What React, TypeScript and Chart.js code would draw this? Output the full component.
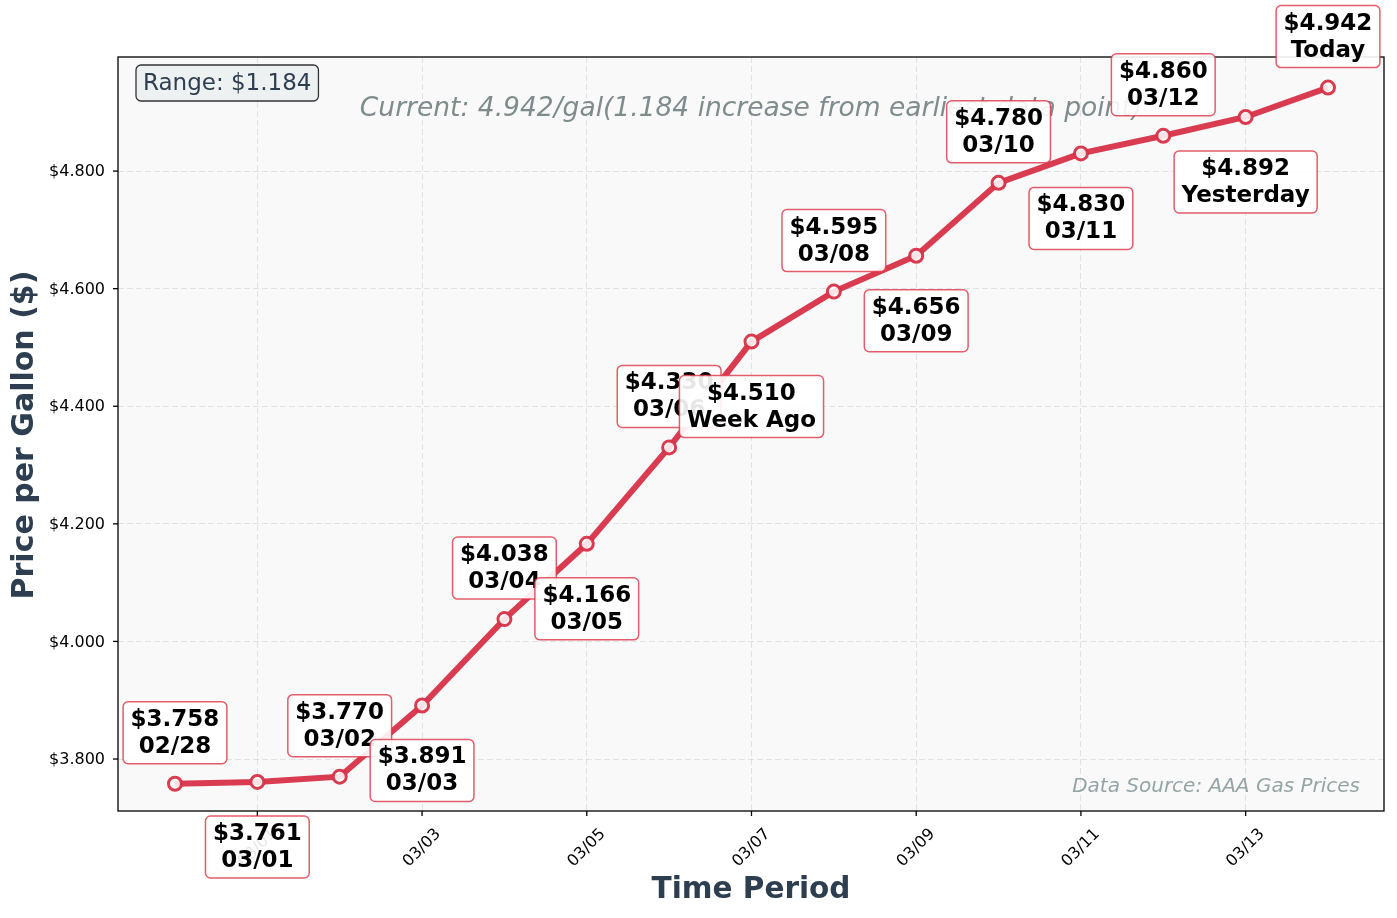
import { useEffect, useRef } from 'react';
import Chart from 'chart.js/auto';

const DATES = ['02/28', '03/01', '03/02', '03/03', '03/04', '03/05', '03/06', '03/07', '03/08', '03/09', '03/10', '03/11', '03/12', '03/13', '03/14'];
const PRICES = [3.758, 3.761, 3.770, 3.891, 4.038, 4.166, 4.330, 4.510, 4.595, 4.656, 4.780, 4.830, 4.860, 4.892, 4.942];
const POINT_NAMES = ['02/28', '03/01', '03/02', '03/03', '03/04', '03/05', '03/06', 'Week Ago', '03/08', '03/09', '03/10', '03/11', '03/12', 'Yesterday', 'Today'];
const X_TICKS = [1, 3, 5, 7, 9, 11, 13];
const Y_TICKS = [3.8, 4.0, 4.2, 4.4, 4.6, 4.8];

const C = {
  line: 'rgba(215, 50, 72, 0.95)',
  boxEdge: 'rgba(220, 53, 69, 0.8)',
  plotBg: '#f9f9f9',
  grid: 'rgba(0, 0, 0, 0.09)',
  dark: '#2c3e50',
  gray: '#7f8c8d',
  lightGray: '#95a5a6'
};
const FONT = '"DejaVu Sans", sans-serif';

export default function App() {
  const canvasRef = useRef<HTMLCanvasElement | null>(null);

  useEffect(() => {
    document.body.style.margin = '0';
    if (!canvasRef.current) return;

    const first = PRICES[0];
    const last = PRICES[PRICES.length - 1];
    const range = Math.max(...PRICES) - Math.min(...PRICES);

    const decor = {
      id: 'decor',
      beforeDraw(chart: Chart) {
        const { ctx, chartArea: a } = chart;
        ctx.save();
        ctx.fillStyle = '#fff';
        ctx.fillRect(0, 0, chart.width, chart.height);
        ctx.fillStyle = C.plotBg;
        ctx.fillRect(a.left, a.top, a.right - a.left, a.bottom - a.top);
        ctx.restore();
      },
      beforeDatasetsDraw(chart: Chart) {
        const { ctx, chartArea: a } = chart;
        const xs = chart.scales.x;
        const ys = chart.scales.y;
        ctx.save();
        // frame
        ctx.strokeStyle = '#000';
        ctx.lineWidth = 1.3;
        ctx.strokeRect(a.left, a.top, a.right - a.left, a.bottom - a.top);

        // y ticks
        ctx.fillStyle = '#000';
        ctx.font = `16px ${FONT}`;
        ctx.textAlign = 'right';
        ctx.textBaseline = 'middle';
        Y_TICKS.forEach((v) => {
          const y = ys.getPixelForValue(v);
          ctx.beginPath();
          ctx.moveTo(a.left - 5, y);
          ctx.lineTo(a.left, y);
          ctx.stroke();
          ctx.fillText('$' + v.toFixed(3), a.left - 13, y + 1);
        });

        // x ticks
        X_TICKS.forEach((i) => {
          const x = xs.getPixelForValue(i);
          ctx.beginPath();
          ctx.moveTo(x, a.bottom);
          ctx.lineTo(x, a.bottom + 5);
          ctx.stroke();
          ctx.save();
          ctx.translate(x, a.bottom + 37);
          ctx.rotate(-Math.PI / 4);
          ctx.textAlign = 'center';
          ctx.fillText(DATES[i], 0, 0);
          ctx.restore();
        });

        // axis titles
        ctx.fillStyle = C.dark;
        ctx.font = `bold 29.5px ${FONT}`;
        ctx.textAlign = 'center';
        ctx.fillText('Time Period', (a.left + a.right) / 2, 890);
        ctx.save();
        ctx.translate(25, 435);
        ctx.rotate(-Math.PI / 2);
        ctx.font = `bold 30px ${FONT}`;
        ctx.fillText('Price per Gallon ($)', 0, 0);
        ctx.restore();

        // subtitle inside plot
        ctx.fillStyle = C.gray;
        ctx.font = `italic 26.5px ${FONT}`;
        ctx.fillText(
          `Current: ${last.toFixed(3)}/gal(${(last - first).toFixed(3)} increase from earliest data point)`,
          (a.left + a.right) / 2,
          109
        );

        // data source
        ctx.fillStyle = C.lightGray;
        ctx.font = `italic 20px ${FONT}`;
        ctx.textAlign = 'right';
        ctx.fillText('Data Source: AAA Gas Prices', a.right - 24, 787);

        // range box
        ctx.font = `23px ${FONT}`;
        const rt = 'Range: $' + range.toFixed(3);
        const rw = ctx.measureText(rt).width;
        ctx.beginPath();
        ctx.roundRect(136, 65, rw + 14, 36, 5);
        ctx.fillStyle = 'rgba(236, 240, 241, 0.9)';
        ctx.fill();
        ctx.strokeStyle = '#333';
        ctx.lineWidth = 1.3;
        ctx.stroke();
        ctx.fillStyle = C.dark;
        ctx.textAlign = 'left';
        ctx.fillText(rt, 143, 84);
        ctx.restore();
      },
      afterDatasetsDraw(chart: Chart) {
        const { ctx } = chart;
        const xs = chart.scales.x;
        const ys = chart.scales.y;
        ctx.save();
        ctx.font = `bold 23px ${FONT}`;
        ctx.textAlign = 'center';
        ctx.textBaseline = 'middle';
        PRICES.forEach((p, i) => {
          const x = xs.getPixelForValue(i);
          const y = ys.getPixelForValue(p);
          const l1 = '$' + p.toFixed(3);
          const l2 = POINT_NAMES[i];
          const w = Math.max(ctx.measureText(l1).width, ctx.measureText(l2).width) + 15;
          const h = 62;
          const top = i % 2 === 0 ? y - 20 - h : y + 34;
          ctx.beginPath();
          ctx.roundRect(x - w / 2, top, w, h, 5);
          ctx.fillStyle = 'rgba(255, 255, 255, 0.9)';
          ctx.fill();
          ctx.strokeStyle = C.boxEdge;
          ctx.lineWidth = 1.5;
          ctx.stroke();
          ctx.fillStyle = '#000';
          ctx.fillText(l1, x, top + 18);
          ctx.fillText(l2, x, top + 45);
        });
        ctx.restore();
      }
    };

    const chart = new Chart(canvasRef.current, {
      type: 'line',
      data: {
        datasets: [
          {
            data: PRICES.map((p, i) => ({ x: i, y: p })),
            borderColor: C.line,
            borderWidth: 6,
            pointRadius: 6.5,
            pointBorderWidth: 3,
            pointBorderColor: C.line,
            pointBackgroundColor: 'rgba(255, 255, 255, 0.85)',
            tension: 0
          }
        ]
      },
      options: {
        animation: false,
        responsive: false,
        devicePixelRatio: 1,
        layout: { padding: { left: 118, right: 13, top: 57, bottom: 107 } },
        plugins: { legend: { display: false }, tooltip: { enabled: false } },
        scales: {
          x: {
            type: 'linear',
            min: -0.692,
            max: 14.68,
            afterBuildTicks: (axis) => {
              axis.ticks = X_TICKS.map((v) => ({ value: v }));
            },
            ticks: { display: false },
            grid: { color: C.grid, drawTicks: false, lineWidth: 1 },
            border: { display: false, dash: [6, 3] }
          },
          y: {
            type: 'linear',
            min: 3.7116,
            max: 4.994,
            afterBuildTicks: (axis) => {
              axis.ticks = Y_TICKS.map((v) => ({ value: v }));
            },
            ticks: { display: false },
            grid: { color: C.grid, drawTicks: false, lineWidth: 1 },
            border: { display: false, dash: [6, 3] }
          }
        }
      },
      plugins: [decor]
    });

    return () => chart.destroy();
  }, []);

  return (
    <div style={{ width: 1397, height: 918 }}>
      <canvas ref={canvasRef} width={1397} height={918} style={{ display: 'block' }} />
    </div>
  );
}
